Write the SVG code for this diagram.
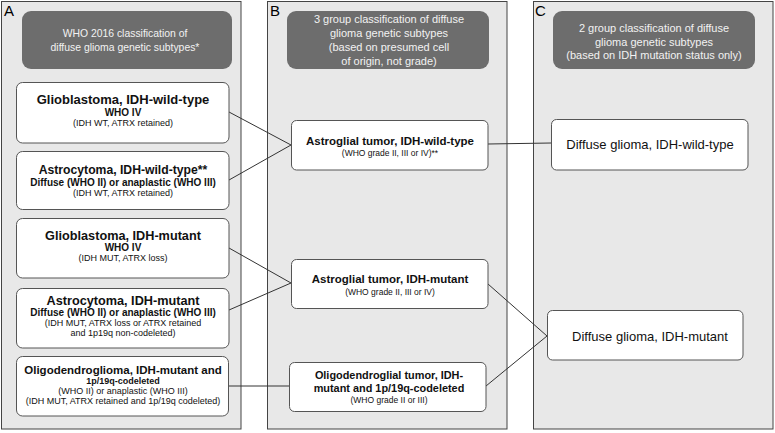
<svg xmlns="http://www.w3.org/2000/svg" width="775" height="433" viewBox="0 0 775 433">
<style>
.panel{fill:#e8e8e8;stroke:#444;stroke-width:1}
.hdr{fill:#6d6d6d;stroke:none}
.ht{font-family:"Liberation Sans",Arial,sans-serif;font-size:11px;fill:#f2f2f2;text-anchor:middle}
.lbl{font-family:"Liberation Sans",Arial,sans-serif;font-size:15px;fill:#000}
.box{fill:#fff;stroke:#555;stroke-width:1}
.t{font-family:"Liberation Sans",Arial,sans-serif;text-anchor:middle;fill:#111}
.b13{font-size:13px;font-weight:bold}
.b11{font-size:11.5px;font-weight:bold}
.b10{font-size:10px;font-weight:bold}
.b9{font-size:9px;font-weight:bold}
.r9{font-size:9px}
.r85{font-size:8.5px}
.r13{font-size:13px}
.conn line{stroke:#333;stroke-width:1}
</style>
<rect width="775" height="433" fill="#fff"/>
<g id="panelA">
<rect class="panel" x="1.5" y="1.5" width="239.5" height="427.5"/>
<text class="lbl" x="4" y="16">A</text>
<rect class="hdr" x="22" y="11" width="210" height="58" rx="9"/>
<text class="ht" x="125" y="37" style="font-size:10.4px">WHO 2016 classification of</text>
<text class="ht" x="125" y="51" style="font-size:10.4px">diffuse glioma genetic subtypes*</text>
</g>
<g id="panelB">
<rect class="panel" x="267.5" y="1.5" width="239.5" height="427.5"/>
<text class="lbl" x="270" y="16">B</text>
<rect class="hdr" x="287" y="11" width="202" height="58" rx="9"/>
<text class="ht" x="389" y="23">3 group classification of diffuse</text>
<text class="ht" x="389" y="37">glioma genetic subtypes</text>
<text class="ht" x="389" y="51">(based on presumed cell</text>
<text class="ht" x="389" y="65">of origin, not grade)</text>
</g>
<g id="panelC">
<rect class="panel" x="533.5" y="1.5" width="239.5" height="427.5"/>
<text class="lbl" x="535" y="16">C</text>
<rect class="hdr" x="553" y="11" width="202" height="58" rx="9"/>
<text class="ht" x="654" y="32">2 group classification of diffuse</text>
<text class="ht" x="654" y="46">glioma genetic subtypes</text>
<text class="ht" x="654" y="59">(based on IDH mutation status only)</text>
</g>
<g class="conn" id="connectors">
<line x1="229" y1="112" x2="291" y2="145"/>
<line x1="229" y1="180" x2="291" y2="145"/>
<line x1="229" y1="248" x2="291" y2="283"/>
<line x1="229" y1="310" x2="291" y2="283"/>
<line x1="228" y1="386" x2="289" y2="386"/>
<line x1="488" y1="144" x2="551" y2="143"/>
<line x1="488" y1="284" x2="547" y2="336"/>
<line x1="486" y1="386" x2="547" y2="336"/>
</g>
<g id="a1">
<rect class="box" x="16.5" y="82.5" width="212.5" height="60.5" rx="6"/>
<text class="t b13" x="123" y="104">Glioblastoma, IDH-wild-type</text>
<text class="t b10" x="123" y="116">WHO IV</text>
<text class="t r9" x="123" y="126">(IDH WT, ATRX retained)</text>
</g>
<g id="a2">
<rect class="box" x="16.5" y="151.5" width="212.5" height="58" rx="6"/>
<text class="t b13" x="123" y="174" style="font-size:12.2px">Astrocytoma, IDH-wild-type**</text>
<text class="t b10" x="123" y="186">Diffuse (WHO II) or anaplastic (WHO III)</text>
<text class="t r9" x="123" y="196">(IDH WT, ATRX retained)</text>
</g>
<g id="a3">
<rect class="box" x="16.5" y="218.5" width="212.5" height="59.5" rx="6"/>
<text class="t b13" x="123" y="240" style="font-size:12.7px">Glioblastoma, IDH-mutant</text>
<text class="t b10" x="123" y="251">WHO IV</text>
<text class="t r9" x="123" y="261">(IDH MUT, ATRX loss)</text>
</g>
<g id="a4">
<rect class="box" x="16.5" y="288.5" width="212.5" height="59.5" rx="6"/>
<text class="t b13" x="123" y="305" style="font-size:12.7px">Astrocytoma, IDH-mutant</text>
<text class="t b10" x="123" y="316">Diffuse (WHO II) or anaplastic (WHO III)</text>
<text class="t r9" x="123" y="326">(IDH MUT, ATRX loss or ATRX retained</text>
<text class="t r9" x="123" y="336">and 1p19q non-codeleted)</text>
</g>
<g id="a5">
<rect class="box" x="16.5" y="356.5" width="212" height="59.5" rx="6"/>
<text class="t b13" x="123" y="374" style="font-size:11.5px">Oligodendroglioma, IDH-mutant and</text>
<text class="t b9" x="123" y="384">1p/19q-codeleted</text>
<text class="t r9" x="123" y="394">(WHO II) or anaplastic (WHO III)</text>
<text class="t r9" x="123" y="404">(IDH MUT, ATRX retained and 1p/19q codeleted)</text>
</g>
<g id="b1">
<rect class="box" x="291.5" y="120.5" width="196.5" height="49.5" rx="5"/>
<text class="t b11" x="390" y="145">Astroglial tumor, IDH-wild-type</text>
<text class="t r85" x="390" y="156">(WHO grade II, III or IV)**</text>
</g>
<g id="b2">
<rect class="box" x="291.5" y="259.5" width="196.5" height="49" rx="5"/>
<text class="t b11" x="390" y="283">Astroglial tumor, IDH-mutant</text>
<text class="t r85" x="390" y="295">(WHO grade II, III or IV)</text>
</g>
<g id="b3">
<rect class="box" x="289.5" y="362.5" width="196.5" height="49" rx="5"/>
<text class="t b11" x="389" y="379" style="font-size:10.9px">Oligodendroglial tumor, IDH-</text>
<text class="t b11" x="389" y="392" style="font-size:10.9px">mutant and 1p/19q-codeleted</text>
<text class="t r85" x="389" y="403">(WHO grade II or III)</text>
</g>
<g id="c1">
<rect class="box" x="551.5" y="119.5" width="196.5" height="50.5" rx="5"/>
<text class="t r13" x="650" y="149">Diffuse glioma, IDH-wild-type</text>
</g>
<g id="c2">
<rect class="box" x="547.5" y="310.5" width="195.5" height="49.5" rx="5"/>
<text class="t r13" x="650" y="341">Diffuse glioma, IDH-mutant</text>
</g>
</svg>
